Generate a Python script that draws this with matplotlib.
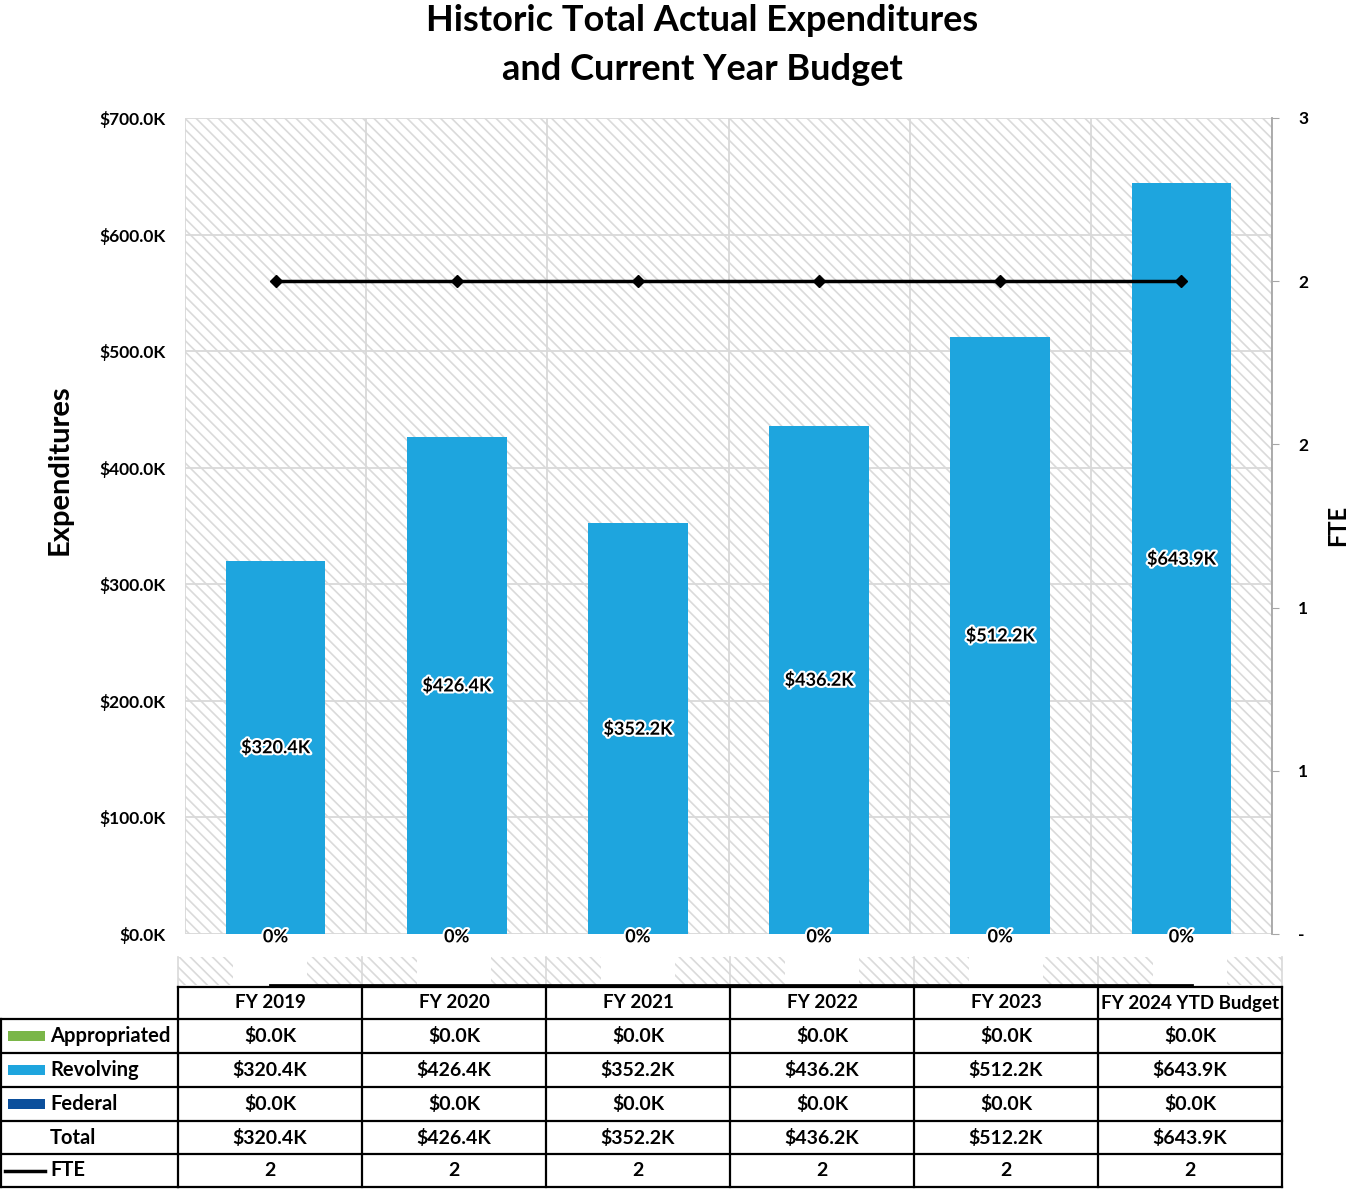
import numpy as np
import matplotlib
matplotlib.use('Agg')
import matplotlib.pyplot as plt
import matplotlib.patheffects as pe
from matplotlib.patches import Rectangle

# data
years = ['FY 2019', 'FY 2020', 'FY 2021', 'FY 2022', 'FY 2023', 'FY 2024 YTD Budget']
appropriated = [0.0, 0.0, 0.0, 0.0, 0.0, 0.0]
revolving = [320.4, 426.4, 352.2, 436.2, 512.2, 643.9]
federal = [0.0, 0.0, 0.0, 0.0, 0.0, 0.0]
fte = [2.4, 2.4, 2.4, 2.4, 2.4, 2.4]
series_names = ['Appropriated', 'Revolving', 'Federal']
series_colors = ['#7ab648', '#1ea5de', '#0b4f9c']

W, H = 1350, 1191
plt.rcParams['font.family'] = ['Lato', 'DejaVu Sans']
plt.rcParams['font.weight'] = 'bold'
plt.rcParams['hatch.linewidth'] = 1.2
HATCH = '#dadada'
GRID = '#d9d9d9'

fig = plt.figure(figsize=(W / 100, H / 100), dpi=100)


def px(x0, y0, x1, y1):
    # pixel box -> figure fraction rect
    return [x0 / W, 1 - y1 / H, (x1 - x0) / W, (y1 - y0) / H]


# overlay for table and strip, in pixel coords
tab = fig.add_axes([0, 0, 1, 1])
tab.set_xlim(0, W)
tab.set_ylim(H, 0)
tab.axis('off')

ax = fig.add_axes(px(185, 118, 1272, 934))
x = np.arange(len(years))
ax.set_xlim(-0.5, len(years) - 0.5)
ax.set_ylim(0, 700)
ax.add_patch(Rectangle((0, 0), 1, 1, transform=ax.transAxes, fill=False,
                       hatch='\\\\\\', edgecolor=HATCH, lw=0, zorder=0))
for v in range(0, 701, 100):
    ax.axhline(v, color=GRID, lw=1.3, zorder=1)
for b in np.arange(-0.5, len(years), 1):
    ax.axvline(b, color=GRID, lw=1.3, zorder=1)

bottom = np.zeros(len(years))
for name, vals, c in zip(series_names, [appropriated, revolving, federal], series_colors):
    ax.bar(x, vals, 0.55, bottom=bottom, color=c, zorder=2)
    bottom += np.array(vals)

halo = [pe.withStroke(linewidth=3, foreground='white')]
for i, v in enumerate(revolving):
    mid = appropriated[i] + v / 2
    ax.text(x[i], mid, f'${v:.1f}K', ha='center', va='center', fontsize=13,
            fontweight='bold', zorder=5, path_effects=halo)
    ax.annotate('0%', (x[i], 0), xytext=(0, -2), textcoords='offset points',
                ha='center', va='center', fontsize=13, fontweight='bold',
                zorder=5, path_effects=halo, annotation_clip=False)

ax.set_yticks(range(0, 701, 100))
ax.set_yticklabels([f'${v:.1f}K' for v in range(0, 701, 100)])
ax.set_xticks([])
ax.tick_params(axis='y', length=0, pad=14, labelsize=12.5)
for s in ax.spines.values():
    s.set_visible(False)

ax2 = ax.twinx()
ax2.plot(x, fte, color='black', lw=2.5, marker='D', ms=6, zorder=4)
ax2.set_ylim(0, 3)
fte_ticks = np.linspace(0, 3, 6)
ax2.set_yticks(fte_ticks)
ax2.set_yticklabels(['-' if t == 0 else f'{t:.0f}' for t in fte_ticks])
ax2.tick_params(axis='y', length=5, color='#a6a6a6', pad=14, labelsize=12.5)
for k, s in ax2.spines.items():
    s.set_visible(k == 'right')
ax2.spines['right'].set_color('#a6a6a6')
ax2.spines['right'].set_linewidth(1.3)

fig.text(702 / W, 1 - 45 / H, 'Historic Total Actual Expenditures\nand Current Year Budget',
         ha='center', va='center', fontsize=26, fontweight='bold', linespacing=1.6)
fig.text(60 / W, 1 - 470 / H, 'Expenditures', rotation=90, ha='center', va='center',
         fontsize=21, fontweight='bold')
fig.text(1338 / W, 1 - 525 / H, 'FTE', rotation=90, ha='center', va='center',
         fontsize=17, fontweight='bold')

# hatched strip under the axis
col_edges = 178 + 184 * np.arange(len(years) + 1)
for c0 in col_edges[:-1]:
    for hx in (c0, c0 + 129):
        tab.add_patch(Rectangle((hx, 957), 55, 28, fill=False, hatch='\\\\\\',
                                edgecolor=HATCH, lw=0))
    tab.plot([c0, c0], [957, 985], color=GRID, lw=1.2)
tab.plot([col_edges[-1], col_edges[-1]], [957, 985], color=GRID, lw=1.2)
tab.plot([270, 1192], [985, 985], color='black', lw=2)

# data table
row_edges = [987, 1019, 1053, 1087, 1121, 1154, 1187]
lw = 1.6
for y in row_edges:
    tab.plot([col_edges[0], col_edges[-1]], [y, y], color='black', lw=lw)
for y in row_edges[1:]:
    tab.plot([0.5, col_edges[0]], [y, y], color='black', lw=lw)
for cx in col_edges:
    tab.plot([cx, cx], [row_edges[0], row_edges[-1]], color='black', lw=lw)
tab.plot([1, 1], [row_edges[1], row_edges[-1]], color='black', lw=lw)

centers_x = (col_edges[:-1] + col_edges[1:]) / 2
centers_y = [(row_edges[i] + row_edges[i + 1]) / 2 for i in range(len(row_edges) - 1)]
fs = 14
for cx, yr in zip(centers_x, years):
    tab.text(cx, centers_y[0], yr, ha='center', va='center', fontsize=13.5, fontweight='bold')

total = [a + r + f for a, r, f in zip(appropriated, revolving, federal)]
rows = [('Appropriated', appropriated), ('Revolving', revolving),
        ('Federal', federal), ('Total', total)]
for r, (lab, vals) in enumerate(rows):
    cy = centers_y[r + 1]
    tab.text(50, cy, lab, ha='left', va='center', fontsize=14.5, fontweight='bold')
    if r < 3:
        tab.add_patch(Rectangle((8, cy - 5), 37, 10, color=series_colors[r], lw=0))
    for cx, v in zip(centers_x, vals):
        tab.text(cx, cy, f'${v:.1f}K', ha='center', va='center', fontsize=fs, fontweight='bold')

cy = centers_y[5]
tab.plot([5, 45], [cy, cy], color='black', lw=2.5)
tab.text(50, cy, 'FTE', ha='left', va='center', fontsize=14.5, fontweight='bold')
for cx, v in zip(centers_x, fte):
    tab.text(cx, cy, f'{v:.0f}', ha='center', va='center', fontsize=fs, fontweight='bold')

fig.savefig('out.png', dpi=100)
